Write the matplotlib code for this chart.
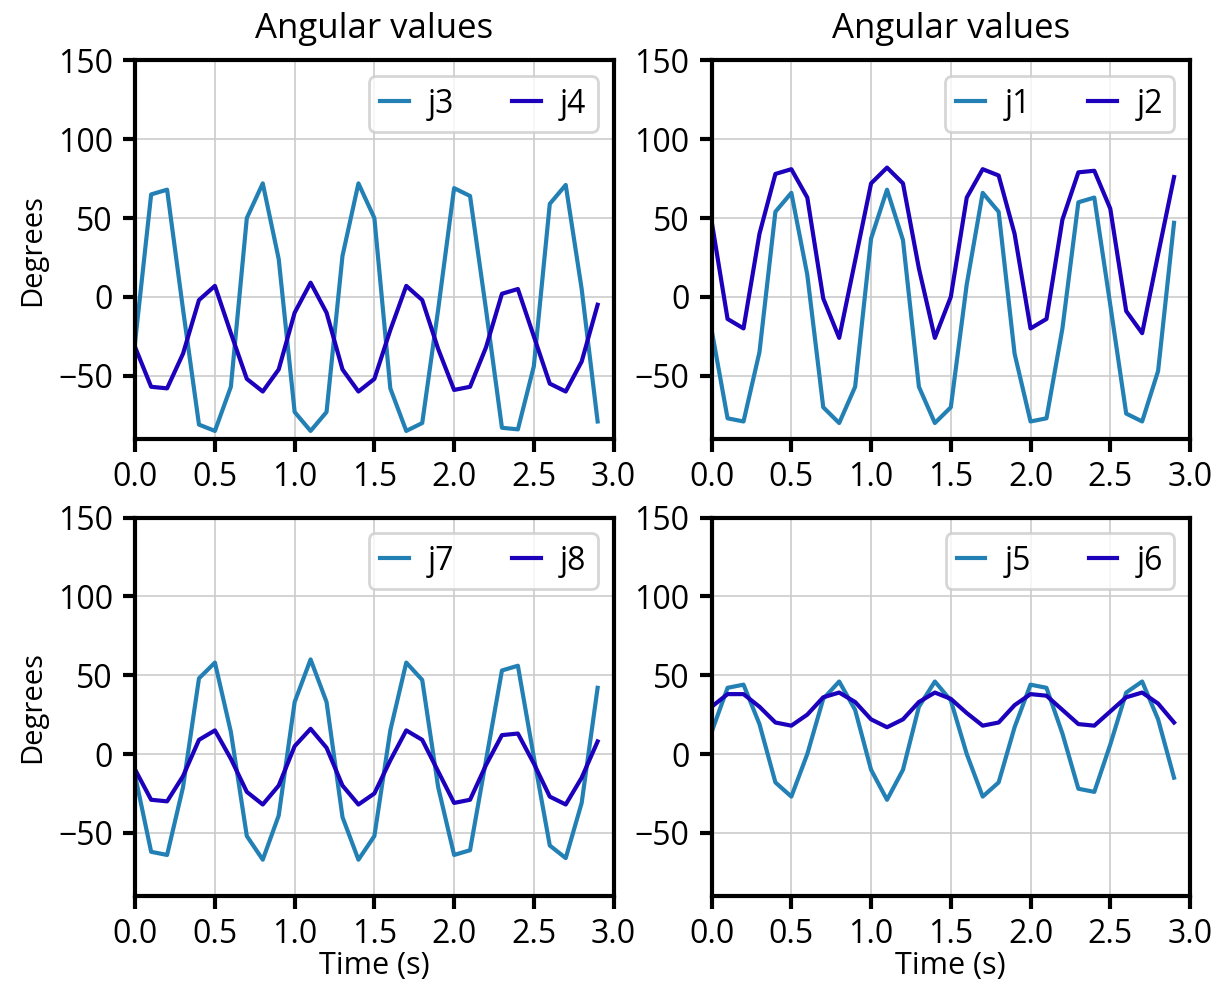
import numpy as np
from matplotlib import pyplot as plt

# time axis, 0.0 .. 2.9 s
time = np.arange(30) / 10

# joint angles in degrees
j1 = [-21, -77, -79, -35, 54, 66, 14, -70, -80, -57, 37, 68, 36, -57, -80,
      -70, 8, 66, 54, -36, -79, -77, -20, 60, 63, -5, -74, -79, -47, 47]
j2 = [48, -14, -20, 40, 78, 81, 63, -1, -26, 23, 72, 82, 72, 18, -26,
      0, 63, 81, 77, 40, -20, -14, 49, 79, 80, 56, -9, -23, 27, 76]
j3 = [-28, 65, 68, -8, -81, -85, -57, 50, 72, 24, -73, -85, -73, 26, 72,
      50, -58, -85, -80, -8, 69, 64, -8, -83, -84, -44, 59, 71, 5, -79]
j4 = [-32, -57, -58, -36, -2, 7, -23, -52, -60, -46, -10, 9, -10, -46, -60,
      -52, -21, 7, -2, -33, -59, -57, -32, 2, 5, -25, -55, -60, -41, -5]
j5 = [14, 42, 44, 19, -18, -27, 0, 35, 46, 28, -10, -29, -10, 30, 46,
      34, 0, -27, -18, 17, 44, 42, 13, -22, -24, 6, 39, 46, 22, -15]
j6 = [30, 38, 38, 30, 20, 18, 25, 36, 39, 33, 22, 17, 22, 33, 39,
      35, 26, 18, 20, 31, 38, 37, 28, 19, 18, 27, 36, 39, 32, 20]
j7 = [-14, -62, -64, -21, 48, 58, 14, -52, -67, -39, 33, 60, 33, -40, -67,
      -52, 15, 58, 47, -21, -64, -61, -4, 53, 56, -2, -58, -66, -31, 42]
j8 = [-10, -29, -30, -14, 9, 15, -3, -24, -32, -20, 5, 16, 4, -20, -32,
      -25, -4, 15, 9, -11, -31, -29, -7, 12, 13, -6, -27, -32, -15, 8]

# (first, second, names) per panel, row by row
panels = [(j3, j4, ('j3', 'j4')), (j1, j2, ('j1', 'j2')),
          (j7, j8, ('j7', 'j8')), (j5, j6, ('j5', 'j6'))]

light, dark = '#2380b4', '#1c00bc'

plt.rcParams.update({'font.family': ['Open Sans', 'DejaVu Sans'],
                     'font.size': 11.5, 'axes.linewidth': 1.5,
                     'xtick.major.size': 4.5, 'ytick.major.size': 4.5,
                     'xtick.major.width': 1.5, 'ytick.major.width': 1.5,
                     'legend.handlelength': 0.9})

fig, axes = plt.subplots(2, 2, figsize=(6.09, 4.95), dpi=200)
fig.subplots_adjust(left=0.111, right=0.977, top=0.939, bottom=0.095,
                    wspace=0.205, hspace=0.208)

for idx, (ax, (a, b, names)) in enumerate(zip(axes.flatten(), panels)):
    ax.plot(time, a, color=light, lw=1.5, label=names[0])
    ax.plot(time, b, color=dark, lw=1.5, label=names[1])
    ax.set_xlim(0, 3.0)
    ax.set_ylim(-90, 150)
    ax.set_xticks(np.arange(0, 3.01, 0.5))
    ax.set_yticks([-50, 0, 50, 100, 150])
    ax.grid(True, color='#cccccc', lw=0.6)
    ax.legend(loc='upper right', ncol=2, columnspacing=1.8,
              handletextpad=0.6, borderpad=0.35, fontsize=11.5)
    if idx < 2:
        ax.set_title('Angular values', fontsize=12.5, pad=8)
    else:
        ax.set_xlabel('Time (s)', fontsize=11, labelpad=0)
    if idx % 2 == 0:
        ax.set_ylabel('Degrees', fontsize=10.5)

fig.savefig('out.png', dpi=200)
